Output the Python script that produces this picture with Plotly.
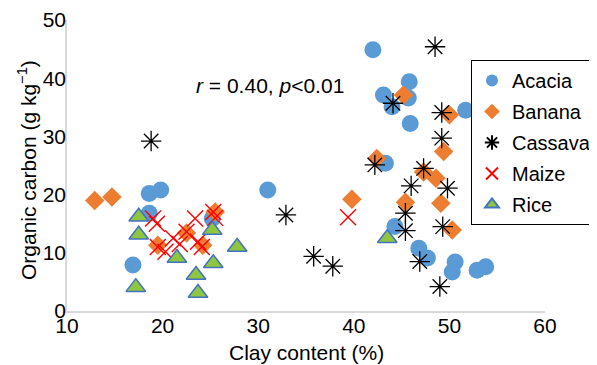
import plotly.graph_objects as go

acacia_x = [18.6, 19.8, 18.6, 16.9, 25.2, 31.0, 42.0, 45.8, 43.1, 45.7, 44.0, 45.9, 51.7, 43.3, 44.3, 46.8, 47.7, 50.6, 50.3, 52.9, 53.8]
acacia_y = [20.2, 20.8, 16.8, 7.9, 15.9, 20.8, 44.9, 39.4, 37.1, 36.6, 35.1, 32.2, 34.5, 25.4, 14.5, 10.8, 9.1, 8.4, 6.7, 7.0, 7.6]

banana_x = [12.9, 14.7, 19.5, 22.5, 24.2, 25.5, 39.8, 45.2, 50.0, 49.4, 42.4, 47.3, 48.6, 49.1, 45.4, 50.3]
banana_y = [19.0, 19.6, 11.3, 13.4, 11.3, 17.0, 19.2, 37.1, 33.7, 27.4, 26.2, 23.9, 22.8, 18.5, 18.7, 13.9]

cassava_x = [18.8, 32.9, 35.8, 37.8, 48.5, 44.1, 49.2, 49.2, 42.2, 47.3, 46.0, 49.8, 45.4, 45.4, 49.3, 46.9, 49.0]
cassava_y = [29.2, 16.5, 9.4, 7.7, 45.4, 35.7, 34.1, 29.7, 25.1, 24.5, 21.5, 21.1, 16.8, 13.8, 14.5, 8.5, 4.2]

maize_x = [19.0, 19.4, 19.5, 20.3, 21.1, 22.5, 23.4, 23.7, 24.1, 25.3, 25.5, 21.8, 39.4]
maize_y = [15.9, 15.0, 11.0, 10.2, 12.5, 13.6, 15.9, 11.9, 11.0, 17.0, 16.0, 11.5, 16.1]

rice_x = [17.5, 17.5, 17.2, 21.5, 23.5, 23.7, 25.3, 25.2, 27.8, 43.5]
rice_y = [16.2, 13.1, 4.1, 9.1, 6.2, 3.1, 8.2, 13.9, 11.0, 12.5]

FONT = "Liberation Sans, Arial, sans-serif"
# page body has an 8px default margin, so the figure is drawn 8px lower/right
OFF = 8
W, H = 597 - OFF, 365 - OFF
PX0, PX1, PY0, PY1 = 67, 545, 20, 311  # target plot area in window pixels
L, T = PX0 - OFF, PY0 - OFF
R, B = W - L - (PX1 - PX0), H - T - (PY1 - PY0)
PW, PH = PX1 - PX0, PY1 - PY0


def px(x):
    return (x - PX0) / PW


def py(y):
    return (PY1 - y) / PH


fig = go.Figure()
fig.add_trace(go.Scatter(x=acacia_x, y=acacia_y, mode="markers", name="Acacia", legendgroup="a",
                         marker=dict(symbol="circle", size=17, color="#5B9BD5", line=dict(width=0))))
fig.add_trace(go.Scatter(x=banana_x, y=banana_y, mode="markers", name="Banana", legendgroup="b",
                         marker=dict(symbol="diamond", size=15, color="#ED7D31", line=dict(width=0))))
fig.add_trace(go.Scatter(x=cassava_x, y=cassava_y, mode="markers", name="Cassava", legendgroup="c",
                         marker=dict(symbol="asterisk-open", size=17, color="black", line=dict(width=1.3, color="black"))))
fig.add_trace(go.Scatter(x=maize_x, y=maize_y, mode="markers", name="Maize", legendgroup="d",
                         marker=dict(symbol="x-thin-open", size=16, color="#FF0000", line=dict(width=1.4, color="#FF0000"))))
fig.add_trace(go.Scatter(x=rice_x, y=rice_y, mode="markers", name="Rice", legendgroup="e",
                         marker=dict(symbol="triangle-up", size=17, color="#8DC63F", line=dict(width=1.5, color="#4472C4"))))

fig.add_annotation(x=px(270), y=py(85), xref="paper", yref="paper", xanchor="center", yanchor="middle",
                   text="<i>r</i> = 0.40, <i>p</i>&lt;0.01",
                   showarrow=False, font=dict(family=FONT, size=21, color="black"))
fig.add_annotation(x=px(306), y=py(352), xref="paper", yref="paper", xanchor="center", yanchor="middle",
                   text="Clay content (%)", showarrow=False,
                   font=dict(family=FONT, size=21, color="black"))
fig.add_annotation(x=px(27), y=py(170), xref="paper", yref="paper", xanchor="center", yanchor="middle",
                   textangle=-90,
                   text="Organic carbon (g kg<sup>−1</sup>)", showarrow=False,
                   font=dict(family=FONT, size=21, color="black"))

fig.update_layout(
    width=W, height=H,
    margin=dict(l=L, r=R, t=T, b=B, autoexpand=False),
    paper_bgcolor="white", plot_bgcolor="white",
    font=dict(family=FONT, size=21, color="black"),
    showlegend=True,
    legend=dict(x=px(471), y=py(60), xanchor="left", yanchor="top",
                bordercolor="black", borderwidth=1, bgcolor="white", tracegroupgap=2,
                font=dict(family=FONT, size=20, color="black"), itemsizing="constant"),
    xaxis=dict(range=[10, 60], dtick=10, showgrid=False, zeroline=False,
               showline=True, linecolor="#D9D9D9", linewidth=1.5, ticks="",
               ticklabelstandoff=-5, tickfont=dict(size=21)),
    yaxis=dict(range=[0, 50], dtick=10, showgrid=False, zeroline=False,
               showline=True, linecolor="#D9D9D9", linewidth=1.5, ticks="",
               ticklabelstandoff=-5, tickfont=dict(size=21)),
)

fig.write_html("out.html")
